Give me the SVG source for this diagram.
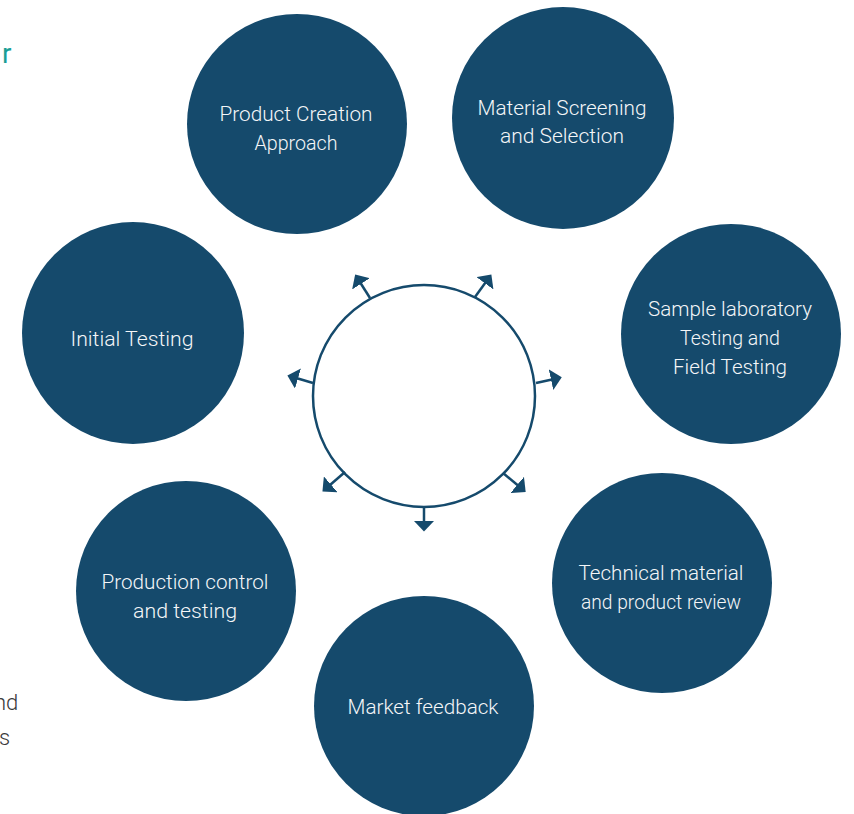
<svg xmlns="http://www.w3.org/2000/svg" width="854" height="814" viewBox="0 0 854 814">
<style>
.node{fill:#154a6c}
.lbl{font-family:Roboto,"Liberation Sans",sans-serif;font-size:20px;font-weight:300;fill:#f4f6f8;text-anchor:middle}
.conn{stroke:#154a6c;stroke-width:2.5;fill:none}
.side{font-family:Roboto,"Liberation Sans",sans-serif;font-size:22px;font-weight:300;fill:#3a3a3a}
</style>
<defs>
<marker id="ah" viewBox="0 0 11 21" refX="1" refY="10.5" markerWidth="11" markerHeight="21" markerUnits="userSpaceOnUse" orient="auto">
<path d="M0,0 L11,10.5 L0,21 z" fill="#154a6c"/>
</marker>
</defs>
<rect width="854" height="814" fill="#ffffff"/>
<text x="2" y="63" style="font-family:Roboto,'Liberation Sans',sans-serif;font-size:28px;font-weight:400;fill:#1a9e96">r</text>
<text x="-6" y="710" class="side">nd</text>
<text x="-1" y="745" class="side">s</text>
<g id="hub">
<circle cx="424" cy="396" r="111" fill="#ffffff" stroke="#154a6c" stroke-width="2.5"/>
</g>
<g id="connectors">
<line class="conn" x1="370" y1="298" x2="360.5" y2="283" marker-end="url(#ah)"/>
<line class="conn" x1="475" y1="297" x2="485.5" y2="282.5" marker-end="url(#ah)"/>
<line class="conn" x1="536" y1="383" x2="552" y2="379.5" marker-end="url(#ah)"/>
<line class="conn" x1="313" y1="383" x2="297" y2="378.3" marker-end="url(#ah)"/>
<line class="conn" x1="345" y1="472" x2="330" y2="485" marker-end="url(#ah)"/>
<line class="conn" x1="503" y1="473" x2="518" y2="485.5" marker-end="url(#ah)"/>
<line class="conn" x1="424" y1="507" x2="424" y2="521.5" marker-end="url(#ah)"/>
</g>
<g id="n1"><circle class="node" cx="297" cy="124" r="110"/>
<text class="lbl" x="296" y="121" textLength="153" lengthAdjust="spacingAndGlyphs">Product Creation</text>
<text class="lbl" x="296" y="150" textLength="83" lengthAdjust="spacingAndGlyphs">Approach</text></g>
<g id="n2"><circle class="node" cx="563" cy="118" r="111"/>
<text class="lbl" x="562" y="115" textLength="169" lengthAdjust="spacingAndGlyphs">Material Screening</text>
<text class="lbl" x="562" y="143" textLength="124" lengthAdjust="spacingAndGlyphs">and Selection</text></g>
<g id="n3"><circle class="node" cx="731" cy="334" r="110"/>
<text class="lbl" x="730" y="316" textLength="164" lengthAdjust="spacingAndGlyphs">Sample laboratory</text>
<text class="lbl" x="730" y="345" textLength="100" lengthAdjust="spacingAndGlyphs">Testing and</text>
<text class="lbl" x="730" y="374" textLength="114" lengthAdjust="spacingAndGlyphs">Field Testing</text></g>
<g id="n4"><circle class="node" cx="662" cy="583" r="110"/>
<text class="lbl" x="661" y="580" textLength="165" lengthAdjust="spacingAndGlyphs">Technical material</text>
<text class="lbl" x="661" y="609" textLength="160" lengthAdjust="spacingAndGlyphs">and product review</text></g>
<g id="n5"><circle class="node" cx="424" cy="706" r="110"/>
<text class="lbl" x="423" y="714" textLength="151" lengthAdjust="spacingAndGlyphs">Market feedback</text></g>
<g id="n6"><circle class="node" cx="186" cy="591" r="110"/>
<text class="lbl" x="185" y="589" textLength="167" lengthAdjust="spacingAndGlyphs">Production control</text>
<text class="lbl" x="185" y="618" textLength="104" lengthAdjust="spacingAndGlyphs">and testing</text></g>
<g id="n7"><circle class="node" cx="133" cy="333" r="111"/>
<text class="lbl" x="132" y="346" textLength="123" lengthAdjust="spacingAndGlyphs">Initial Testing</text></g>
</svg>
